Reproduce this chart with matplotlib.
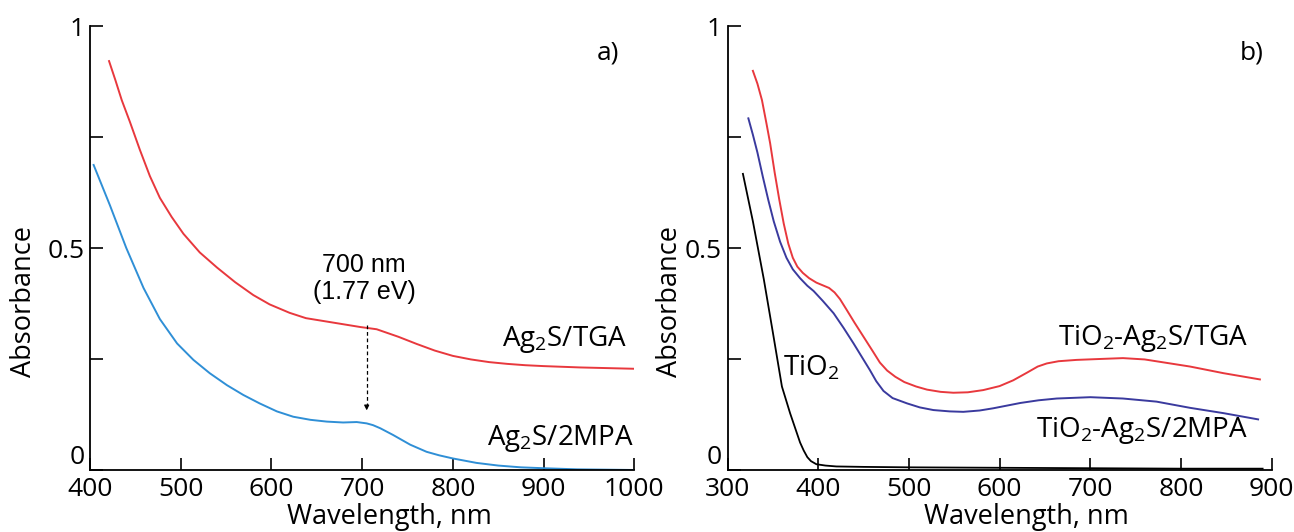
import matplotlib
matplotlib.use("Agg")
import matplotlib.pyplot as plt

plt.rcParams['font.family'] = ['Open Sans', 'DejaVu Sans']
plt.rcParams['mathtext.fontset'] = 'custom'
plt.rcParams['mathtext.rm'] = 'Open Sans'
plt.rcParams['mathtext.default'] = 'regular'

## panel a) Ag2S colloids
wl_tga = [421, 428, 435, 444, 455, 466, 477, 490, 503, 521, 540, 560, 580, 598, 620, 638,
          665, 698, 716, 740, 760, 780, 800, 820, 840, 860, 880, 900, 940, 1000]
abs_tga = [0.921, 0.878, 0.833, 0.784, 0.721, 0.662, 0.613, 0.570, 0.532, 0.490, 0.456, 0.423,
           0.394, 0.373, 0.354, 0.342, 0.333, 0.322, 0.317, 0.300, 0.284, 0.269, 0.257, 0.249,
           0.243, 0.239, 0.236, 0.234, 0.231, 0.228]

wl_mpa = [404, 422, 440, 459, 477, 496, 514, 532, 551, 569, 587, 606, 624, 643, 661, 679,
          694, 705, 712, 720, 734, 753, 771, 785, 800, 826, 850, 875, 900, 937, 1000]
abs_mpa = [0.687, 0.596, 0.500, 0.410, 0.340, 0.285, 0.248, 0.218, 0.191, 0.169, 0.150, 0.132,
           0.120, 0.113, 0.109, 0.107, 0.108, 0.105, 0.101, 0.094, 0.079, 0.057, 0.041, 0.033,
           0.026, 0.016, 0.010, 0.006, 0.004, 0.0015, 0.0]

## panel b) TiO2 films
wl_tio2 = [317, 328, 340, 350, 360, 369, 380, 384, 388, 392, 398, 408, 420, 450, 500, 600,
           700, 800, 890]
abs_tio2 = [0.667, 0.560, 0.430, 0.310, 0.188, 0.128, 0.062, 0.044, 0.029, 0.020, 0.013,
            0.010, 0.008, 0.007, 0.006, 0.005, 0.004, 0.003, 0.003]

wl_ttga = [328, 333, 338, 343, 347, 352, 357, 362, 367, 372, 377, 383, 390, 398, 405, 412,
           418, 424, 431, 440, 450, 460, 468, 476, 485, 495, 508, 520, 535, 549, 565, 582,
           600, 615, 630, 642, 652, 665, 685, 710, 736, 760, 785, 810, 847, 887]
abs_ttga = [0.899, 0.870, 0.833, 0.780, 0.736, 0.670, 0.610, 0.555, 0.510, 0.478, 0.458, 0.444,
            0.432, 0.422, 0.416, 0.410, 0.400, 0.385, 0.362, 0.332, 0.300, 0.268, 0.242, 0.224,
            0.210, 0.198, 0.188, 0.181, 0.176, 0.174, 0.175, 0.180, 0.189, 0.202, 0.219, 0.233,
            0.240, 0.245, 0.248, 0.250, 0.252, 0.249, 0.241, 0.233, 0.218, 0.204]

wl_tmpa = [323, 328, 333, 339, 345, 351, 358, 365, 372, 380, 388, 395, 405, 417, 428, 439,
           448, 457, 464, 472, 482, 498, 512, 527, 545, 560, 578, 593, 608, 623, 643, 663,
           700, 736, 773, 810, 847, 885]
abs_tmpa = [0.792, 0.755, 0.715, 0.660, 0.608, 0.560, 0.514, 0.478, 0.452, 0.432, 0.415, 0.403,
            0.381, 0.353, 0.320, 0.285, 0.255, 0.225, 0.200, 0.178, 0.162, 0.150, 0.141, 0.135,
            0.132, 0.131, 0.134, 0.139, 0.145, 0.151, 0.157, 0.161, 0.164, 0.161, 0.154, 0.140,
            0.128, 0.114]

peak_wl = 705
peak_top, peak_bottom = 0.327, 0.128

red = '#e8383d'
lightblue = '#2f8fd6'
darkblue = '#3a3a9e'

W, H = 1294, 532
fig = plt.figure(figsize=(W / 100, H / 100), dpi=100)
ax1 = fig.add_axes([90 / W, 62 / H, 544.3 / W, 444 / H])
ax2 = fig.add_axes([727.5 / W, 62 / H, 544.2 / W, 444 / H])

def style(ax, xmin, xmax):
    ax.set_xlim(xmin, xmax)
    ax.set_ylim(0, 1)
    for s in ['top', 'right']:
        ax.spines[s].set_visible(False)
    for s in ['left', 'bottom']:
        ax.spines[s].set_linewidth(1.3)
    ax.set_xticks(range(xmin, xmax + 1, 100))
    ax.set_yticks([0, 0.5, 1])
    ax.set_yticklabels(['0', '0.5', '1'])
    ax.get_yticklabels()[0].set_va('bottom')
    ax.set_yticks([0.25, 0.75], minor=True)
    ax.tick_params(axis='both', which='both', direction='in', length=9, width=1.2,
                   labelsize=19)
    ax.tick_params(axis='x', pad=5)
    ax.tick_params(axis='y', pad=4)
    ax.set_xlabel('Wavelength, nm', fontsize=19.5)
    ax.set_ylabel('Absorbance', fontsize=19.5)
    ax.xaxis.set_label_coords(0.55, -0.074)
    ax.xaxis.label.set_va('top')
    ax.yaxis.label.set_va('center')

style(ax1, 400, 1000)
style(ax2, 300, 900)
ax1.yaxis.set_label_coords(-0.121, 0.38)
ax2.yaxis.set_label_coords(-0.106, 0.38)

ax1.plot(wl_tga, abs_tga, color=red, lw=1.4)
ax1.plot(wl_mpa, abs_mpa, color=lightblue, lw=1.4)
ax1.plot([peak_wl, peak_wl], [peak_top, peak_bottom + 0.015], color='k', lw=0.9,
         ls=(0, (3, 2.2)))
ax1.annotate('', xy=(peak_wl, peak_bottom), xytext=(peak_wl, peak_bottom + 0.02),
             arrowprops=dict(arrowstyle='-|>', color='k', lw=0.9, mutation_scale=7))
ax1.text(peak_wl - 3, 0.432, '700 nm\n(1.77 eV)', ha='center', va='center', fontsize=18,
         family='Liberation Sans', linespacing=1.15)
ax1.text(992, 0.293, r'Ag$_2$S/TGA', ha='right', va='center', fontsize=20)
ax1.text(1000, 0.072, r'Ag$_2$S/2MPA', ha='right', va='center', fontsize=20)
ax1.text(0.952, 0.939, 'a)', transform=ax1.transAxes, ha='center', va='center', fontsize=19)

ax2.plot(wl_tio2, abs_tio2, color='k', lw=1.3)
ax2.plot(wl_ttga, abs_ttga, color=red, lw=1.4)
ax2.plot(wl_tmpa, abs_tmpa, color=darkblue, lw=1.4)
ax2.text(361, 0.23, r'TiO$_2$', ha='left', va='center', fontsize=20)
ax2.text(874, 0.297, r'TiO$_2$-Ag$_2$S/TGA', ha='right', va='center', fontsize=20)
ax2.text(874, 0.09, r'TiO$_2$-Ag$_2$S/2MPA', ha='right', va='center', fontsize=20)
ax2.text(0.964, 0.939, 'b)', transform=ax2.transAxes, ha='center', va='center', fontsize=19)

fig.savefig('out.png', dpi=100)
